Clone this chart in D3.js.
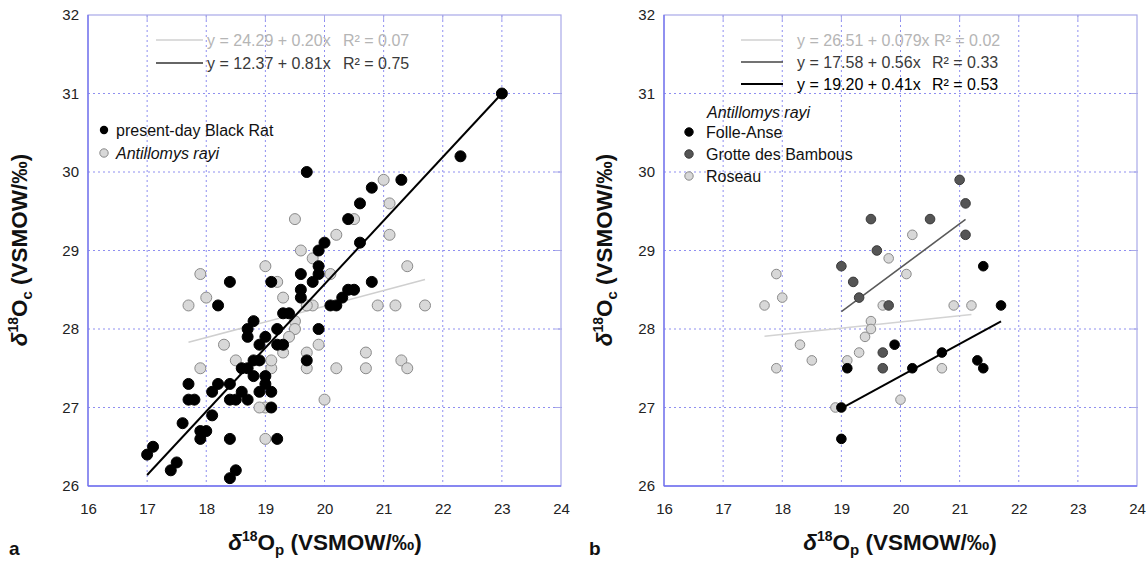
<!DOCTYPE html>
<html><head><meta charset="utf-8">
<script src="https://cdn.jsdelivr.net/npm/d3@7"></script>
<style>
body{margin:0;background:#fff;}
svg text{font-family:"Liberation Sans",Arial,sans-serif;}
</style></head>
<body><svg id="c" width="1147" height="562"></svg>
<script>
// ---------- data ----------
const xTicks = [16,17,18,19,20,21,22,23,24];
const yTicks = [26,27,28,29,30,31,32];

// panel a : present-day Black Rat  [d18Op, d18Oc]
const blackRat = [
 [19.7,30.0],[21.3,29.9],[20.8,29.8],[20.6,29.6],[20.4,29.4],[20.0,29.1],[20.6,29.1],[19.9,29.0],
 [19.9,28.8],[19.9,28.7],[19.6,28.7],[19.8,28.6],[18.4,28.6],[19.1,28.6],[20.8,28.6],[19.6,28.5],
 [19.6,28.4],[18.2,28.3],[20.1,28.3],[20.2,28.3],[20.3,28.4],[20.4,28.5],[20.5,28.5],[19.3,28.2],
 [19.4,28.2],[18.8,28.1],[19.2,28.0],[19.9,28.0],[18.7,28.0],[18.7,27.9],[19.0,27.9],[18.9,27.8],
 [19.2,27.8],[19.3,27.8],[18.8,27.6],[18.9,27.6],[19.7,27.6],[18.6,27.5],[18.7,27.5],[18.8,27.4],
 [19.0,27.4],[19.0,27.3],[17.7,27.3],[18.2,27.3],[18.4,27.3],[18.1,27.2],[18.6,27.2],[18.9,27.2],
 [19.1,27.2],[17.7,27.1],[17.8,27.1],[18.4,27.1],[18.5,27.1],[18.7,27.1],[19.1,27.0],[18.1,26.9],
 [17.6,26.8],[17.9,26.7],[18.0,26.7],[17.9,26.6],[18.4,26.6],[19.2,26.6],[17.1,26.5],[17.0,26.4],
 [17.5,26.3],[17.4,26.2],[18.5,26.2],[18.4,26.1],[23.0,31.0],[22.3,30.2]
];
// panel b : Antillomys rayi by site
const folleAnse = [
 [21.4,28.8],[21.7,28.3],[19.9,27.8],[20.7,27.7],[19.1,27.5],[20.2,27.5],[21.3,27.6],[21.4,27.5],
 [19.0,27.0],[19.0,26.6]
];
const grotteBambous = [
 [21.0,29.9],[21.1,29.6],[19.5,29.4],[20.5,29.4],[21.1,29.2],[19.6,29.0],[19.0,28.8],[19.2,28.6],
 [19.3,28.4],[19.8,28.3],[19.7,27.7],[19.7,27.5]
];
const roseau = [
 [20.2,29.2],[19.8,28.9],[20.1,28.7],[17.9,28.7],[18.0,28.4],[17.7,28.3],[19.7,28.3],[20.9,28.3],
 [21.2,28.3],[19.5,28.1],[19.5,28.0],[19.4,27.9],[18.3,27.8],[19.3,27.7],[18.5,27.6],[19.1,27.6],
 [17.9,27.5],[20.7,27.5],[20.0,27.1],[18.9,27.0]
];
const antillomys = folleAnse.concat(grotteBambous, roseau);

// regression equations [intercept, slope, xmin, xmax]
const fitRayiA   = [24.29, 0.20, 17.7, 21.7];
const fitRatA    = [12.37, 0.81, 17.0, 23.0];
const fitRoseau  = [26.51, 0.079, 17.7, 21.2];
const fitGrotte  = [17.58, 0.56, 19.0, 21.1];
const fitFolle   = [19.20, 0.41, 19.0, 21.7];

const eqA = [["y = 24.29 + 0.20x","R² = 0.07"],["y = 12.37 + 0.81x","R² = 0.75"]];
const eqB = [["y = 26.51 + 0.079x R² = 0.02",""],["y = 17.58 + 0.56x","R² = 0.33"],["y = 19.20 + 0.41x","R² = 0.53"]];

// ---------- drawing ----------
const svg = d3.select("#c");
const LIGHT = "#d8d8d8", LIGHTSTROKE = "#8a8a8a", DARK = "#555555";

function panel(x0, x1, top, bottom){
  const x = d3.scaleLinear().domain([16,24]).range([x0,x1]);
  const y = d3.scaleLinear().domain([26,32]).range([bottom,top]);
  const g = svg.append("g");
  g.selectAll(".gx").data(xTicks.slice(1,-1)).join("line")
    .attr("x1",d=>x(d)).attr("x2",d=>x(d)).attr("y1",top).attr("y2",bottom)
    .attr("stroke","#8f8ff0").attr("stroke-width",1).attr("stroke-dasharray","2,3");
  g.selectAll(".gy").data(yTicks.slice(1,-1)).join("line")
    .attr("y1",d=>y(d)).attr("y2",d=>y(d)).attr("x1",x0).attr("x2",x1)
    .attr("stroke","#8f8ff0").attr("stroke-width",1).attr("stroke-dasharray","2,3");
  g.append("rect").attr("x",x0).attr("y",top).attr("width",x1-x0).attr("height",bottom-top)
    .attr("fill","none").attr("stroke","#a8a8e8").attr("stroke-width",1.2);
  g.append("line").attr("x1",x0).attr("x2",x0).attr("y1",top).attr("y2",bottom).attr("stroke","#7070f0").attr("stroke-width",1.3);
  g.append("line").attr("x1",x0).attr("x2",x1).attr("y1",bottom).attr("y2",bottom).attr("stroke","#7070f0").attr("stroke-width",1.3);
  g.selectAll(".tt").data(xTicks.slice(1,-1)).join("line")
    .attr("x1",d=>x(d)).attr("x2",d=>x(d)).attr("y1",top).attr("y2",top+5).attr("stroke","#a8a8e8");
  g.selectAll(".tr").data(yTicks.slice(1,-1)).join("line")
    .attr("y1",d=>y(d)).attr("y2",d=>y(d)).attr("x1",x1-6).attr("x2",x1+1).attr("stroke","#a8a8e8");
  const ax = g.append("g").attr("transform",`translate(0,${bottom})`)
    .call(d3.axisBottom(x).tickValues(xTicks).tickFormat(d3.format("d")).tickSize(0).tickPadding(17));
  const ay = g.append("g").attr("transform",`translate(${x0},0)`)
    .call(d3.axisLeft(y).tickValues(yTicks).tickFormat(d3.format("d")).tickSize(0).tickPadding(9));
  [ax,ay].forEach(a=>{a.select(".domain").remove();
    a.selectAll("text").attr("font-size",15).attr("fill","#222").attr("font-family","Liberation Sans, Arial, sans-serif");});
  return {x,y,g};
}

function fitLine(p, f, color, w){
  p.g.append("line")
    .attr("x1",p.x(f[2])).attr("y1",p.y(f[0]+f[1]*f[2]))
    .attr("x2",p.x(f[3])).attr("y2",p.y(f[0]+f[1]*f[3]))
    .attr("stroke",color).attr("stroke-width",w);
}
function dots(p, data, fill, stroke, r){
  p.g.append("g").selectAll("circle").data(data).join("circle")
    .attr("cx",d=>p.x(d[0])).attr("cy",d=>p.y(d[1])).attr("r",r)
    .attr("fill",fill).attr("stroke",stroke).attr("stroke-width",1);
}

function title(sel, sub){
  sel.append("tspan").text("δ").attr("font-style","italic");
  sel.append("tspan").text("18").attr("font-size",14).attr("dy",-9);
  sel.append("tspan").text("O").attr("dy",9);
  sel.append("tspan").text(sub).attr("font-size",15).attr("dy",5);
  sel.append("tspan").text(" (VSMOW/‰)").attr("dy",-5);
}
function axisTitles(cx, cy, ytx, letter, lx){
  const t = svg.append("text").attr("x",cx).attr("y",cy).attr("text-anchor","middle")
    .attr("font-size",22.5).attr("font-weight","bold").attr("fill","#111");
  title(t,"p");
  const yt = svg.append("text").attr("transform",`translate(${ytx},250) rotate(-90)`).attr("text-anchor","middle")
    .attr("font-size",22.5).attr("font-weight","bold").attr("fill","#111");
  title(yt,"c");
  svg.append("text").attr("x",lx).attr("y",555).attr("font-size",19).attr("font-weight","bold").attr("fill","#111").text(letter);
}

// ---- panel a ----
const pa = panel(88, 561, 15, 486);
fitLine(pa, fitRayiA, "#cfcfcf", 1.6);
dots(pa, antillomys, LIGHT, LIGHTSTROKE, 5.5);
dots(pa, blackRat, "#000", "#000", 5.5);
fitLine(pa, fitRatA, "#000", 2);

const eqColA = ["#b5b5b5","#3a3a3a"], eqLineA = ["#d0d0d0","#333"];
eqA.forEach((e,i)=>{
  const yy = 40 + i*23;
  svg.append("line").attr("x1",156).attr("x2",203).attr("y1",yy).attr("y2",yy).attr("stroke",eqLineA[i]).attr("stroke-width",1.4);
  svg.append("text").attr("x",207).attr("y",yy+5.5).attr("font-size",16).attr("fill",eqColA[i]).text(e[0]);
  svg.append("text").attr("x",343).attr("y",yy+5.5).attr("font-size",16).attr("fill",eqColA[i]).text(e[1]);
});
svg.append("circle").attr("cx",104).attr("cy",130).attr("r",4.2).attr("fill","#000");
svg.append("text").attr("x",116).attr("y",136).attr("font-size",16).attr("fill","#111").text("present-day Black Rat");
svg.append("circle").attr("cx",104).attr("cy",153).attr("r",4.2).attr("fill",LIGHT).attr("stroke",LIGHTSTROKE);
svg.append("text").attr("x",116).attr("y",159).attr("font-size",16).attr("font-style","italic").attr("fill","#111").text("Antillomys rayi");

axisTitles(325, 550, 27, "a", 9);

// ---- panel b ----
const pb = panel(664, 1137, 15, 486);
fitLine(pb, fitRoseau, "#d3d3d3", 1.6);
fitLine(pb, fitGrotte, "#5a5a5a", 1.6);
dots(pb, roseau, LIGHT, LIGHTSTROKE, 4.8);
dots(pb, grotteBambous, DARK, "#3a3a3a", 4.8);
dots(pb, folleAnse, "#000", "#000", 4.8);
fitLine(pb, fitFolle, "#000", 2);

const eqColB = ["#b5b5b5","#3a3a3a","#000"], eqLineB = ["#d0d0d0","#444","#000"];
eqB.forEach((e,i)=>{
  const yy = 40 + i*22;
  svg.append("line").attr("x1",741).attr("x2",783).attr("y1",yy).attr("y2",yy).attr("stroke",eqLineB[i]).attr("stroke-width",i==2?1.8:1.4);
  svg.append("text").attr("x",797).attr("y",yy+5.5).attr("font-size",16).attr("fill",eqColB[i]).text(e[0]);
  if(e[1]) svg.append("text").attr("x",932).attr("y",yy+5.5).attr("font-size",16).attr("fill",eqColB[i]).text(e[1]);
});
svg.append("text").attr("x",707).attr("y",118).attr("font-size",16).attr("font-style","italic").attr("fill","#111").text("Antillomys rayi");
const legB = [["Folle-Anse","#000","#000"],["Grotte des Bambous",DARK,"#3a3a3a"],["Roseau",LIGHT,LIGHTSTROKE]];
legB.forEach((l,i)=>{
  const yy = 132 + i*22;
  svg.append("circle").attr("cx",689).attr("cy",yy).attr("r",4.2).attr("fill",l[1]).attr("stroke",l[2]);
  svg.append("text").attr("x",706).attr("y",yy+6).attr("font-size",16).attr("fill","#111").text(l[0]);
});

axisTitles(900, 550, 612, "b", 589);
</script></body></html>
